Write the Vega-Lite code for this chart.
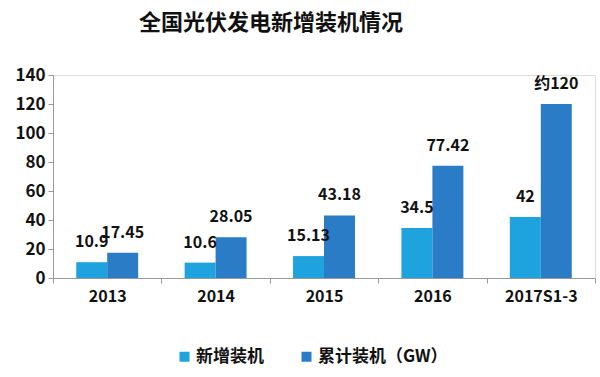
{
  "$schema": "https://vega.github.io/schema/vega-lite/v6.json",
  "width": 542,
  "height": 203,
  "autosize": {"type": "none"},
  "padding": {"left": 53, "top": 75, "right": 5, "bottom": 99},
  "background": "white",
  "title": {
    "text": "全国光伏发电新增装机情况",
    "font": "Noto Sans CJK SC",
    "fontSize": 22,
    "fontWeight": "bold",
    "color": "#111111",
    "anchor": "middle",
    "dx": -53,
    "offset": 31
  },
  "data": {
    "values": [
      {"year": "2013", "series": "新增装机", "value": 10.9, "label": "10.9"},
      {"year": "2013", "series": "累计装机（GW）", "value": 17.45, "label": "17.45"},
      {"year": "2014", "series": "新增装机", "value": 10.6, "label": "10.6"},
      {"year": "2014", "series": "累计装机（GW）", "value": 28.05, "label": "28.05"},
      {"year": "2015", "series": "新增装机", "value": 15.13, "label": "15.13"},
      {"year": "2015", "series": "累计装机（GW）", "value": 43.18, "label": "43.18"},
      {"year": "2016", "series": "新增装机", "value": 34.5, "label": "34.5"},
      {"year": "2016", "series": "累计装机（GW）", "value": 77.42, "label": "77.42"},
      {"year": "2017S1-3", "series": "新增装机", "value": 42, "label": "42"},
      {"year": "2017S1-3", "series": "累计装机（GW）", "value": 120, "label": "约120"}
    ]
  },
  "encoding": {
    "x": {
      "field": "year",
      "type": "nominal",
      "sort": null,
      "scale": {"paddingInner": 0, "paddingOuter": 0},
      "axis": {
        "title": null,
        "labelAngle": 0,
        "labelFont": "Noto Sans CJK SC",
        "labelFontSize": 16,
        "labelFontWeight": "bold",
        "labelColor": "#111111",
        "labelPadding": 5,
        "tickBand": "extent",
        "tickSize": 5,
        "tickColor": "#999999",
        "domainColor": "#999999",
        "grid": false
      }
    },
    "xOffset": {
      "field": "series",
      "type": "nominal",
      "sort": null,
      "scale": {"paddingInner": 0, "paddingOuter": 0.75}
    },
    "y": {
      "field": "value",
      "type": "quantitative",
      "scale": {"domain": [0, 140], "nice": false},
      "axis": {
        "title": null,
        "values": [0, 20, 40, 60, 80, 100, 120, 140],
        "grid": false,
        "labelFont": "Noto Sans CJK SC",
        "labelFontSize": 17,
        "labelFontWeight": "bold",
        "labelColor": "#111111",
        "labelPadding": 3,
        "tickSize": 5,
        "tickColor": "#999999",
        "domainColor": "#999999"
      }
    }
  },
  "layer": [
    {
      "mark": {"type": "bar"},
      "encoding": {
        "color": {
          "field": "series",
          "type": "nominal",
          "sort": null,
          "scale": {"range": ["#1FA3DF", "#2A7CC6"]},
          "legend": {
            "title": null,
            "orient": "none",
            "direction": "horizontal",
            "legendX": 123,
            "legendY": 273,
            "symbolType": "square",
            "symbolSize": 100,
            "symbolStrokeWidth": 0,
            "labelFont": "Noto Sans CJK SC",
            "labelFontSize": 17,
            "labelFontWeight": "bold",
            "labelColor": "#111111",
            "labelOffset": 3,
            "columnPadding": 34
          }
        }
      }
    },
    {
      "mark": {
        "type": "text",
        "baseline": "bottom",
        "dy": -12,
        "font": "Noto Sans CJK SC",
        "fontSize": 16,
        "fontWeight": "bold",
        "color": "#111111"
      },
      "encoding": {
        "text": {"field": "label"}
      }
    }
  ]
}
